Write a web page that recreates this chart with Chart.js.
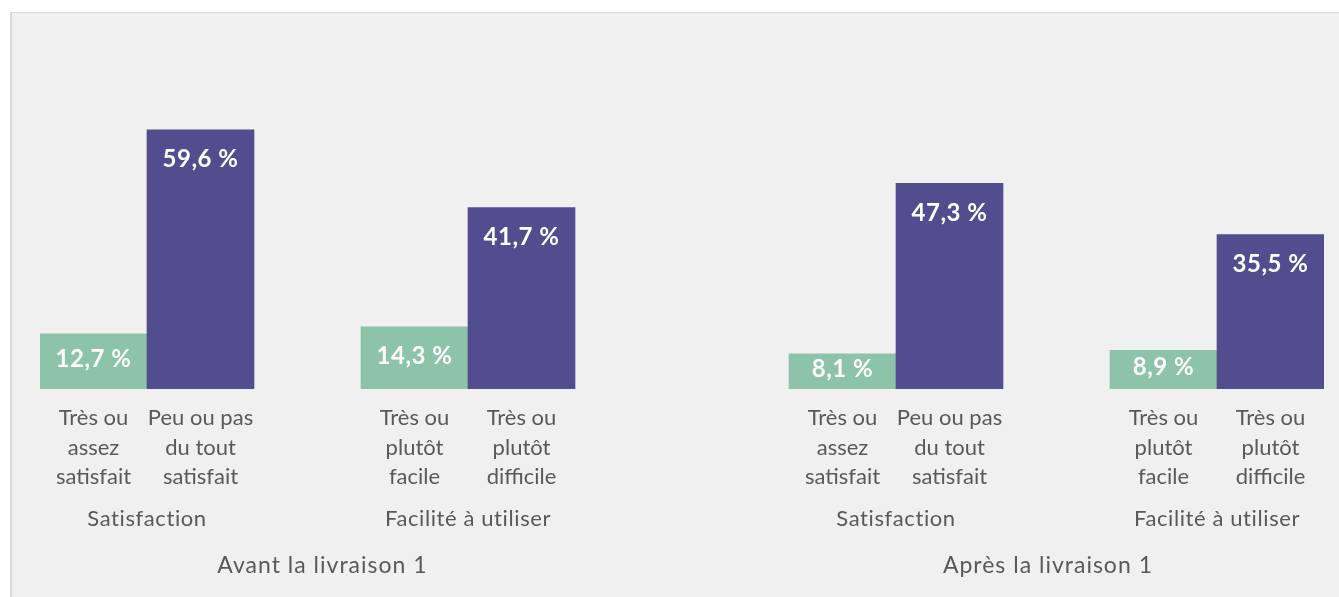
<!DOCTYPE html>
<html>
<head>
<meta charset="utf-8">
<script src="https://cdn.jsdelivr.net/npm/chart.js@4/dist/chart.umd.min.js"></script>
<style>
  html, body { margin: 0; padding: 0; background: #ffffff; }
  #bg { position: absolute; left: 10px; top: 12px; width: 1327px; height: 585px;
        background: #f0f0f0; border-left: 2px solid #d9d9d9; border-top: 1px solid #d9d9d9; }
  #wrap { position: absolute; left: 0; top: 0; width: 1339px; height: 597px; }
</style>
</head>
<body>
<div id="bg"></div>
<div id="wrap"><canvas id="chart"></canvas></div>
<script>
// one slot per bar, empty slots are the gaps between groups
var barLabels = [
  ['Très ou', 'assez', 'satisfait'], ['Peu ou pas', 'du tout', 'satisfait'], null,
  ['Très ou', 'plutôt', 'facile'], ['Très ou', 'plutôt', 'difficile'], null, null,
  ['Très ou', 'assez', 'satisfait'], ['Peu ou pas', 'du tout', 'satisfait'], null,
  ['Très ou', 'plutôt', 'facile'], ['Très ou', 'plutôt', 'difficile']
];
var values = [12.7, 59.6, null, 14.3, 41.7, null, null, 8.1, 47.3, null, 8.9, 35.5];
var positive = [true, false, null, true, false, null, null, true, false, null, true, false];

// [label, first slot, last slot]
var groups = [
  ['Satisfaction', 0, 1], ['Facilité à utiliser', 3, 4],
  ['Satisfaction', 7, 8], ['Facilité à utiliser', 10, 11]
];
// [label, slot the title is centred on]
var periods = [
  ['Avant la livraison 1', 2.14], ['Après la livraison 1', 8.92]
];

var green = '#8dc3a8';
var purple = '#524d8f';
var textColor = '#595959';
var font = 'Lato, "Open Sans", sans-serif';

var labelsPlugin = {
  id: 'labelsPlugin',
  afterDatasetsDraw: function(chart) {
    var ctx = chart.ctx;
    var xs = chart.scales.x;
    var meta = chart.getDatasetMeta(0);
    ctx.save();
    ctx.textAlign = 'center';
    ctx.textBaseline = 'middle';

    // values inside the bars
    ctx.fillStyle = '#ffffff';
    ctx.font = 'bold 24px ' + font;
    ctx.letterSpacing = '0.5px';
    for (var i = 0; i < values.length; i++) {
      if (values[i] === null) continue;
      var bar = meta.data[i];
      var y = Math.min(bar.y + 30, (bar.y + bar.base) / 2 - 2);
      ctx.fillText(values[i].toFixed(1).replace('.', ',') + ' %', bar.x, y);
    }

    // bar labels
    ctx.fillStyle = textColor;
    ctx.font = '22px ' + font;
    ctx.letterSpacing = '0px';
    for (var j = 0; j < barLabels.length; j++) {
      if (!barLabels[j]) continue;
      var x = xs.getPixelForValue(j);
      for (var k = 0; k < barLabels[j].length; k++) {
        ctx.fillText(barLabels[j][k], x, 418 + k * 29.5);
      }
    }

    // group labels
    ctx.letterSpacing = '0.6px';
    groups.forEach(function(g) {
      var cx = (xs.getPixelForValue(g[1]) + xs.getPixelForValue(g[2])) / 2;
      ctx.fillText(g[0], cx, 519);
    });
    ctx.font = '23px ' + font;
    ctx.letterSpacing = '1px';
    periods.forEach(function(p) {
      ctx.fillText(p[0], xs.getPixelForValue(p[1]), 566);
    });
    ctx.restore();
  }
};

new Chart(document.getElementById('chart'), {
  type: 'bar',
  data: {
    labels: barLabels.map(function(l) { return l ? l.join(' ') : ''; }),
    datasets: [{
      data: values,
      backgroundColor: positive.map(function(p) { return p ? green : purple; }),
      borderWidth: 0,
      barPercentage: 1,
      categoryPercentage: 1
    }]
  },
  options: {
    responsive: true,
    maintainAspectRatio: false,
    animation: false,
    layout: { padding: { left: 40, right: 15, top: 41, bottom: 208 } },
    plugins: { legend: { display: false }, tooltip: { enabled: false } },
    scales: {
      x: { display: false, offset: true, grid: { display: false } },
      y: { display: false, min: 0, max: 80, grid: { display: false } }
    }
  },
  plugins: [labelsPlugin]
});
</script>
</body>
</html>
